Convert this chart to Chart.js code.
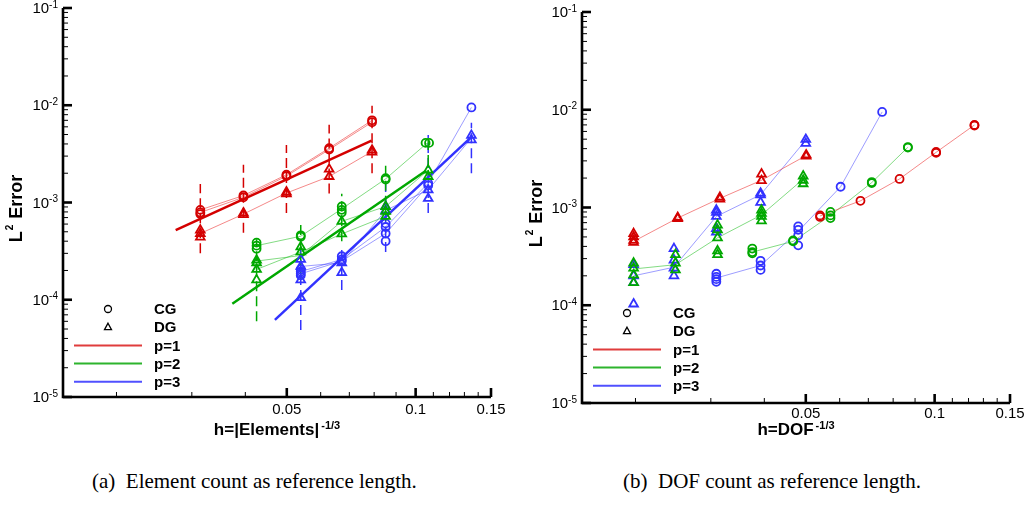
<!DOCTYPE html>
<html lang="en">
<head>
<meta charset="utf-8">
<title>L2 error convergence</title>
<style>
  body { margin: 0; background: #fff; }
  #wrap { position: relative; width: 1027px; height: 506px; }
  canvas { position: absolute; top: 0; }
  #cvEl { left: 0; }
  #cvDof { left: 514px; }
  .cap { position: absolute; top: 471px; font: 21px/21px "Liberation Serif", "Times New Roman", serif; white-space: pre; color: #000; }
</style>
</head>
<body>
<div id="wrap">
  <canvas id="cvEl" width="514" height="450"></canvas>
  <canvas id="cvDof" width="513" height="450"></canvas>
  <div class="cap" style="left:92px">(a)  Element count as reference length.</div>
  <div class="cap" style="left:623px">(b)  DOF count as reference length.</div>
</div>

<script src="https://cdn.jsdelivr.net/npm/chart.js"></script>
<script>
// ---- axes / ticks ----
const xMin = 0.015, xMax = 0.15, yMin = 1e-5, yMax = 1e-1;
const xMajorTicks = [0.05, 0.1, 0.15];
const xTickLabels = ['0.05', '0.1', '0.15'];
const xMinorTicks = [0.02, 0.03, 0.04, 0.06, 0.07, 0.08, 0.09, 0.11, 0.12, 0.13, 0.14];
const yMajorTicks = [1e-5, 1e-4, 1e-3, 1e-2, 1e-1];
const yTickExps = ['-5', '-4', '-3', '-2', '-1'];
const yMinorMant = [2, 3, 4, 5, 6, 7, 8, 9];
const markLabels = ['CG', 'DG'];
const lineLabels = ['p=1', 'p=2', 'p=3'];

// ---- left panel: h = |Elements|^(-1/3) ----  [h, error]
const elCgP1 = [[0.0314,8.4e-4],[0.0314,7.9e-4],[0.0314,7.6e-4],[0.0396,1.18e-3],[0.0396,1.13e-3],
  [0.0499,1.93e-3],[0.0499,1.87e-3],[0.0628,3.62e-3],[0.0628,3.5e-3],[0.0791,7.0e-3],[0.0791,6.7e-3]];
const elDgP1 = [[0.0314,5.2e-4],[0.0314,4.8e-4],[0.0314,4.4e-4],[0.0396,7.8e-4],[0.0396,7.5e-4],
  [0.0499,1.28e-3],[0.0499,1.23e-3],[0.0628,2.2e-3],[0.0628,1.85e-3],[0.0791,3.45e-3],[0.0791,3.3e-3]];
const elCgP2 = [[0.0425,3.87e-4],[0.0425,3.6e-4],[0.0425,3.35e-4],[0.0539,4.6e-4],[0.0539,4.45e-4],
  [0.0672,9.1e-4],[0.0672,8.4e-4],[0.0672,7.9e-4],[0.0851,1.78e-3],[0.0851,1.72e-3],[0.1055,4.1e-3],[0.1075,4.1e-3]];
const elDgP2 = [[0.0425,2.55e-4],[0.0425,2.4e-4],[0.0425,2.05e-4],[0.0425,1.6e-4],[0.0539,3.5e-4],[0.0539,3.1e-4],
  [0.0672,6.4e-4],[0.0672,4.75e-4],[0.0851,9.1e-4],[0.0851,8.1e-4],[0.0851,7.2e-4],[0.107,2.15e-3],[0.107,1.85e-3]];
const elCgP3 = [[0.0539,2.05e-4],[0.0539,1.95e-4],[0.0539,1.85e-4],[0.0539,1.78e-4],[0.0672,2.8e-4],[0.0672,2.6e-4],
  [0.0672,2.5e-4],[0.0851,6.1e-4],[0.0851,5.6e-4],[0.0851,4.8e-4],[0.0851,4.0e-4],[0.107,1.58e-3],[0.107,1.5e-3],[0.135,9.5e-3]];
const elDgP3 = [[0.0539,2.6e-4],[0.0539,2.2e-4],[0.0539,1.6e-4],[0.0539,1.05e-4],[0.0672,2.4e-4],[0.0672,1.9e-4],
  [0.0851,9.1e-4],[0.0851,8.3e-4],[0.107,1.35e-3],[0.107,1.1e-3],[0.135,4.9e-3],[0.135,4.4e-3]];

const elRunsP1 = [
  [[0.0314,8.4e-4],[0.0396,1.18e-3],[0.0499,1.93e-3],[0.0628,3.62e-3],[0.0791,7.0e-3]],
  [[0.0314,7.9e-4],[0.0396,1.13e-3],[0.0499,1.87e-3],[0.0628,3.5e-3],[0.0791,6.7e-3]],
  [[0.0314,4.8e-4],[0.0396,7.6e-4],[0.0499,1.25e-3],[0.0628,1.85e-3],[0.0791,3.35e-3]]];
const elRunsP2 = [
  [[0.0425,3.6e-4],[0.0539,4.5e-4],[0.0672,8.6e-4],[0.0851,1.75e-3],[0.1065,4.1e-3]],
  [[0.0425,2.5e-4],[0.0539,2.85e-4],[0.0672,6.4e-4],[0.0851,9.1e-4],[0.107,2.15e-3]],
  [[0.0425,2.05e-4],[0.0539,3.1e-4],[0.0672,4.75e-4],[0.0851,7.2e-4],[0.107,1.85e-3]]];
const elRunsP3 = [
  [[0.0539,1.95e-4],[0.0672,2.6e-4],[0.0851,5.6e-4],[0.107,1.58e-3],[0.135,9.5e-3]],
  [[0.0539,1.85e-4],[0.0672,2.5e-4],[0.0851,4.8e-4],[0.107,1.5e-3]],
  [[0.0539,2.2e-4],[0.0672,2.4e-4],[0.0851,8.3e-4],[0.107,1.35e-3],[0.135,4.6e-3]]];

const elFitP1 = [[0.0275,5.2e-4],[0.0789,4.33e-3]];
const elFitP2 = [[0.0373,9.1e-5],[0.1059,2.13e-3]];
const elFitP3 = [[0.0469,6.2e-5],[0.1353,4.75e-3]];

// vertical ranges [h, low, high]
const elBarsP1 = [[0.0314,3.0e-4,1.55e-3],[0.0396,4.9e-4,2.45e-3],[0.0499,7.8e-4,3.9e-3],[0.0628,1.24e-3,6.3e-3],[0.0791,2.0e-3,9.9e-3]];
const elBarsP2 = [[0.0425,6.0e-5,4.2e-4],[0.0539,1.6e-4,6.0e-4],[0.0672,4.0e-4,1.23e-3],[0.0851,6.5e-4,2.43e-3],[0.107,1.7e-3,4.95e-3]];
const elBarsP3 = [[0.0539,4.9e-5,3.5e-4],[0.0672,1.26e-4,3.4e-4],[0.0851,3.1e-4,1.7e-3],[0.107,7.8e-4,4.95e-3],[0.135,2.0e-3,6.6e-3]];

// ---- right panel: h = DOF^(-1/3) ----
const dofCgP1 = [[0.054,8.3e-4],[0.054,8.0e-4],[0.0671,1.17e-3],[0.0828,1.96e-3],[0.1008,3.7e-3],[0.1008,3.62e-3],[0.1239,7.0e-3],[0.1239,6.9e-3]];
const dofDgP1 = [[0.0198,5.4e-4],[0.0198,5.0e-4],[0.0198,4.6e-4],[0.0198,4.4e-4],[0.0251,7.9e-4],[0.0251,7.7e-4],
  [0.0315,1.27e-3],[0.0315,1.22e-3],[0.0394,2.2e-3],[0.0394,1.88e-3],[0.0501,3.45e-3],[0.0501,3.35e-3]];
const dofCgP2 = [[0.0375,3.8e-4],[0.0375,3.5e-4],[0.0375,3.4e-4],[0.0467,4.6e-4],[0.0467,4.5e-4],[0.0571,9.0e-4],
  [0.0571,8.3e-4],[0.0571,7.8e-4],[0.0713,1.82e-3],[0.0713,1.78e-3],[0.0866,4.15e-3],[0.0866,4.1e-3]];
const dofDgP2 = [[0.0198,2.7e-4],[0.0198,2.4e-4],[0.0198,2.05e-4],[0.0198,1.7e-4],[0.0248,3.3e-4],[0.0248,2.7e-4],[0.0248,2.3e-4],
  [0.0311,6.6e-4],[0.0311,5.9e-4],[0.0311,4.9e-4],[0.0311,3.6e-4],[0.0311,3.3e-4],[0.0394,9.4e-4],[0.0394,8.7e-4],
  [0.0394,8.1e-4],[0.0394,7.3e-4],[0.0493,2.1e-3],[0.0493,1.9e-3],[0.0493,1.75e-3]];
const dofCgP3 = [[0.0309,2.1e-4],[0.0309,1.95e-4],[0.0309,1.85e-4],[0.0309,1.74e-4],[0.0392,2.85e-4],[0.0392,2.55e-4],[0.0392,2.3e-4],
  [0.048,6.4e-4],[0.048,5.9e-4],[0.048,5.2e-4],[0.048,4.1e-4],[0.0603,1.63e-3],[0.0754,9.5e-3]];
const dofDgP3 = [[0.0198,2.6e-4],[0.0198,2.0e-4],[0.0198,1.7e-4],[0.0198,1.03e-4],[0.0246,3.8e-4],[0.0246,2.9e-4],[0.0246,2.4e-4],
  [0.0246,2.0e-4],[0.0309,9.4e-4],[0.0309,8.9e-4],[0.0309,8.1e-4],[0.0309,6.1e-4],[0.0309,5.6e-4],[0.0392,1.4e-3],
  [0.0392,1.35e-3],[0.0392,1.13e-3],[0.05,4.97e-3],[0.05,4.53e-3]];

const dofRunsP1 = [
  [[0.054,8.2e-4],[0.0671,1.17e-3],[0.0828,1.96e-3],[0.1008,3.67e-3],[0.1239,6.98e-3]],
  [[0.0198,4.5e-4],[0.0251,7.8e-4],[0.0315,1.24e-3],[0.0394,1.9e-3],[0.0501,3.4e-3]]];
const dofRunsP2 = [
  [[0.0375,3.5e-4],[0.0467,4.5e-4],[0.0571,8.3e-4],[0.0713,1.8e-3],[0.0866,4.13e-3]],
  [[0.0198,2.35e-4],[0.0248,2.6e-4],[0.0311,4.9e-4],[0.0394,8.4e-4],[0.0493,1.95e-3]]];
const dofRunsP3 = [
  [[0.0309,1.9e-4],[0.0392,2.55e-4],[0.048,5.7e-4],[0.0603,1.63e-3],[0.0754,9.5e-3]],
  [[0.0198,2.0e-4],[0.0246,2.45e-4],[0.0309,8.1e-4],[0.0392,1.35e-3],[0.05,4.9e-3]]];

// ---- colours ----
const RED = '#d40000', GREEN = '#00a800', BLUE = '#3232ff';
const RED_T = 'rgba(235,40,40,0.55)', GREEN_T = 'rgba(30,190,30,0.55)', BLUE_T = 'rgba(60,60,255,0.5)';
const LEG = ['#e03c3c', '#2db42d', '#5050ff'];

function toPts(arr) { return arr.map(([x, y]) => ({x: x, y: y})); }

function markerSet(arr, style, color) {
  return {data: toPts(arr), showLine: false, pointStyle: style,
    pointRadius: style === 'circle' ? 4 : 5, pointBorderWidth: 1.8,
    borderColor: color, pointBorderColor: color, backgroundColor: 'rgba(0,0,0,0)',
    pointBackgroundColor: 'rgba(0,0,0,0)', order: 0};
}
function lineSet(arr, color, width, dash, order) {
  return {data: toPts(arr), showLine: true, pointRadius: 0, borderColor: color,
    borderWidth: width, borderDash: dash, backgroundColor: color, fill: false, order: order};
}

function panelSets(p) {
  const sets = [];
  p.forEach(s => {
    (s.bars || []).forEach(b => sets.push(lineSet([[b[0], b[1]], [b[0], b[2]]], s.c, 1.5, [10, 5], 3)));
    s.runs.forEach(r => sets.push(lineSet(r, s.t, 1, [], 2)));
    if (s.fit) sets.push(lineSet(s.fit, s.c, 2.5, [], 1));
    sets.push(markerSet(s.cg, 'circle', s.c));
    sets.push(markerSet(s.dg, 'triangle', s.c));
  });
  return sets;
}

// draws axes, inward ticks, tick labels with superscripts, titles and legend
const decoPlugin = {
  id: 'deco',
  afterDatasetsDraw(chart, args, o) {
    const ctx = chart.ctx, a = chart.chartArea;
    const xs = chart.scales.x, ys = chart.scales.y;
    ctx.save();
    ctx.strokeStyle = '#000';
    ctx.fillStyle = '#000';
    function seg(x1, y1, x2, y2, w) {
      ctx.lineWidth = w;
      ctx.beginPath(); ctx.moveTo(x1, y1); ctx.lineTo(x2, y2); ctx.stroke();
    }
    // axis lines
    ctx.lineWidth = 2.6;
    ctx.beginPath(); ctx.moveTo(a.left, a.top); ctx.lineTo(a.left, a.bottom); ctx.lineTo(a.right, a.bottom); ctx.stroke();
    // y ticks
    yMajorTicks.forEach((v, i) => {
      const py = ys.getPixelForValue(v);
      seg(a.left, py, a.left + 9, py, 2.6);
      if (i < yMajorTicks.length - 1) {
        yMinorMant.forEach(m => {
          const q = ys.getPixelForValue(v * m);
          seg(a.left, q, a.left + 5, q, 1);
        });
      }
      // label 10^e
      ctx.font = '10px "Liberation Sans", Arial, sans-serif';
      const sw = ctx.measureText(yTickExps[i]).width;
      ctx.textAlign = 'left'; ctx.textBaseline = 'alphabetic';
      ctx.fillText(yTickExps[i], a.left - 5 - sw, py - 0.5);
      ctx.font = '15px "Liberation Sans", Arial, sans-serif';
      ctx.textAlign = 'right'; ctx.textBaseline = 'middle';
      ctx.fillText('10', a.left - 5 - sw, py + 1);
    });
    // x ticks
    xMinorTicks.forEach(v => {
      const px = xs.getPixelForValue(v);
      seg(px, a.bottom, px, a.bottom - 5, 1);
    });
    ctx.font = '15px "Liberation Sans", Arial, sans-serif';
    ctx.textAlign = 'center'; ctx.textBaseline = 'alphabetic';
    xMajorTicks.forEach((v, i) => {
      const px = xs.getPixelForValue(v);
      seg(px, a.bottom, px, a.bottom - 9, 2.6);
      ctx.fillText(xTickLabels[i], px, a.bottom + o.xLabOff);
    });
    // x title with superscript
    ctx.font = 'bold 17px "Liberation Sans", Arial, sans-serif';
    const mw = ctx.measureText(o.xTitle).width;
    ctx.font = 'bold 11px "Liberation Sans", Arial, sans-serif';
    const supw = ctx.measureText(o.xSup).width;
    const x0 = (a.left + a.right) / 2 - (mw + 2 + supw) / 2;
    const by = a.bottom + o.xTitleOff;
    ctx.textAlign = 'left';
    ctx.font = 'bold 17px "Liberation Sans", Arial, sans-serif';
    ctx.fillText(o.xTitle, x0, by);
    ctx.font = 'bold 11px "Liberation Sans", Arial, sans-serif';
    ctx.fillText(o.xSup, x0 + mw + 2, by - 6.5);
    // y title  L^2 Error
    ctx.save();
    ctx.translate(a.left - o.yTitleDx, (a.top + a.bottom) / 2 + 6);
    ctx.rotate(-Math.PI / 2);
    ctx.textBaseline = 'middle';
    ctx.font = 'bold 18px "Liberation Sans", Arial, sans-serif';
    const wL = ctx.measureText('L').width, wE = ctx.measureText(' Error').width;
    ctx.font = 'bold 10px "Liberation Sans", Arial, sans-serif';
    const w2 = ctx.measureText('2').width;
    const sx = -(wL + 2 + w2 + wE) / 2;
    ctx.font = 'bold 18px "Liberation Sans", Arial, sans-serif';
    ctx.fillText('L', sx, 0);
    ctx.fillText(' Error', sx + wL + 2 + w2, 0);
    ctx.font = 'bold 10px "Liberation Sans", Arial, sans-serif';
    ctx.fillText('2', sx + wL + 1, -7);
    ctx.restore();
    // legend
    const lx = a.left, ly = a.bottom - o.legUp;
    ctx.strokeStyle = '#000';
    ctx.lineWidth = 1.3;
    ctx.beginPath(); ctx.arc(lx + 45, ly, 3.5, 0, Math.PI * 2); ctx.stroke();
    ctx.beginPath();
    ctx.moveTo(lx + 45, ly + 18.2 - 4); ctx.lineTo(lx + 48.5, ly + 18.2 + 2.5); ctx.lineTo(lx + 41.5, ly + 18.2 + 2.5);
    ctx.closePath(); ctx.stroke();
    ctx.font = 'bold 15px "Liberation Sans", Arial, sans-serif';
    ctx.textAlign = 'left'; ctx.textBaseline = 'middle';
    markLabels.forEach((t, i) => ctx.fillText(t, lx + 91, ly + i * 18.2 + 1));
    lineLabels.forEach((t, i) => {
      const yy = ly + (i + 2) * 18.2;
      ctx.strokeStyle = LEG[i];
      seg(lx + 11, yy, lx + 79, yy, 2);
      ctx.fillText(t, lx + 91, yy + 1);
    });
    ctx.restore();
  }
};

function makeChart(id, sets, pad, deco) {
  return new Chart(document.getElementById(id), {
    type: 'scatter',
    data: {datasets: sets},
    options: {
      responsive: false,
      animation: false,
      events: [],
      layout: {padding: pad},
      plugins: {legend: {display: false}, tooltip: {enabled: false}, deco: deco},
      scales: {
        x: {type: 'logarithmic', min: xMin, max: xMax, display: false},
        y: {type: 'logarithmic', min: yMin, max: yMax, display: false}
      }
    },
    plugins: [decoPlugin]
  });
}

makeChart('cvEl', panelSets([
  {c: RED, t: RED_T, cg: elCgP1, dg: elDgP1, runs: elRunsP1, fit: elFitP1, bars: elBarsP1},
  {c: GREEN, t: GREEN_T, cg: elCgP2, dg: elDgP2, runs: elRunsP2, fit: elFitP2, bars: elBarsP2},
  {c: BLUE, t: BLUE_T, cg: elCgP3, dg: elDgP3, runs: elRunsP3, fit: elFitP3, bars: elBarsP3}
]), {left: 63, top: 8, right: 23, bottom: 53},
  {xTitle: 'h=|Elements|', xSup: '-1/3', xTitleOff: 38, xLabOff: 17, yTitleDx: 46, legUp: 88});

makeChart('cvDof', panelSets([
  {c: RED, t: RED_T, cg: dofCgP1, dg: dofDgP1, runs: dofRunsP1},
  {c: GREEN, t: GREEN_T, cg: dofCgP2, dg: dofDgP2, runs: dofRunsP2},
  {c: BLUE, t: BLUE_T, cg: dofCgP3, dg: dofDgP3, runs: dofRunsP3}
]), {left: 68, top: 12, right: 17, bottom: 47},
  {xTitle: 'h=DOF', xSup: '-1/3', xTitleOff: 32, xLabOff: 15, yTitleDx: 45, legUp: 90});
</script>
</body>
</html>
